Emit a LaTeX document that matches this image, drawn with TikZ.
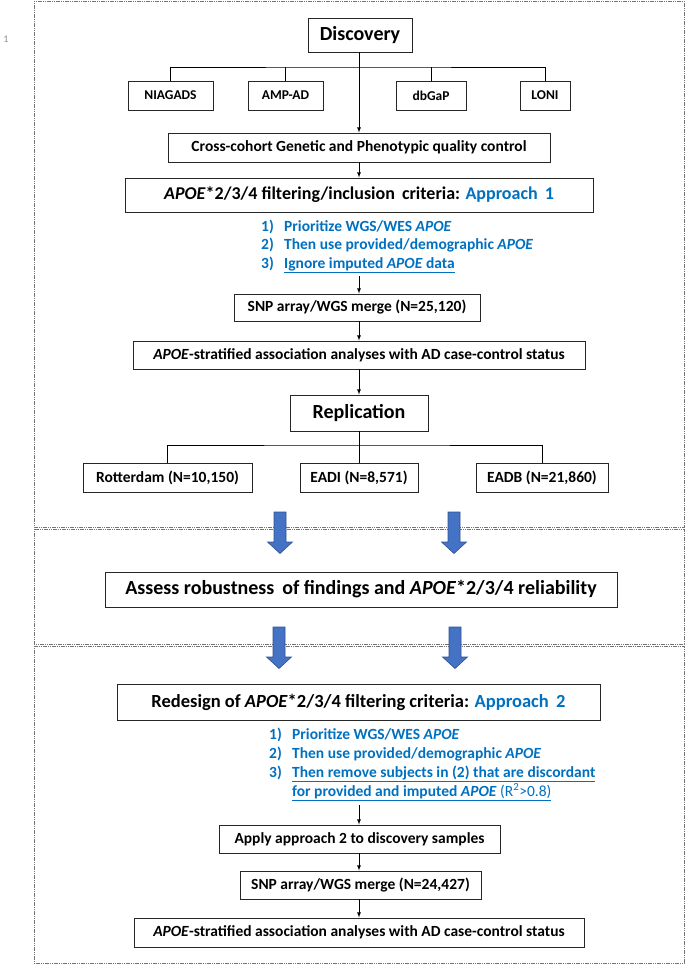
\documentclass[tikz,border=0pt]{standalone}
\usepackage{fontspec}
\setmainfont{Carlito}
\usepackage{xcolor}
\usepackage{tikz}
\usetikzlibrary{positioning, arrows}

\definecolor{listblue}{RGB}{0,112,192}
\definecolor{arrowblue}{RGB}{68,114,196}
\definecolor{arrowedge}{RGB}{47,82,143}

\begin{document}
\begin{tikzpicture}[x=1pt, y=-1pt,
        box/.style={draw=black!85, line width=0.9pt, fill=white, inner sep=0pt, align=center, font=\fontsize{15.5}{18}\selectfont\bfseries},
        srcbox/.style={box, minimum height=29pt, font=\fontsize{13.5}{16}\selectfont\bfseries},
        headbox/.style={box, font=\fontsize{20}{24}\selectfont\bfseries},
        bigbox/.style={box, font=\fontsize{18.5}{22}\selectfont\bfseries},
        item/.style={anchor=base west, inner sep=0pt, text=listblue, font=\fontsize{15.5}{18}\selectfont\bfseries},
        panel/.style={draw=black!55, line width=1pt, dash pattern=on 1.2pt off 0.6pt},
        link/.style={draw=black, line width=0.8pt},
        arr/.style={link, -latex},
        blockarr/.style={fill=arrowblue, draw=arrowedge, line width=0.6pt}]
        \useasboundingbox (0,0) rectangle (685,964);
        % the three panels
        \draw[panel] (34,1) rectangle (684,527);
        \draw[panel] (34,529) rectangle (684,644);
        \draw[panel] (34,646) rectangle (684,963);
        \node[inner sep=0pt, text=black!45, font=\fontsize{10}{11}\selectfont] (lineno) at (6,39) {1};
        % discovery
        \node[headbox, minimum width=104pt, minimum height=34pt] (disc) at (360,35) {Discovery};
        \node[srcbox, minimum width=85pt] (niagads) at (170.5,95.5) {NIAGADS};
        \node[srcbox, minimum width=75pt] (ampad) at (285.5,95.5) {AMP-AD};
        \node[srcbox, minimum width=70pt] (dbgap) at (431,95.5) {dbGaP};
        \node[srcbox, minimum width=50pt] (loni) at (545,95.5) {LONI};
        \node[box, minimum width=382pt, minimum height=29pt] (qc) at (359,147.5) {Cross-cohort Genetic and Phenotypic quality control};
        \coordinate (br1) at (359,67);
        \draw[link] (niagads.north) |- (br1) -| (loni.north);
        \draw[link] (ampad.north) -- (ampad.north |- br1);
        \draw[link] (dbgap.north) -- (dbgap.north |- br1);
        \draw[arr] (disc.south -| qc.north) -- (qc.north);
        % approach 1
        \node[bigbox, minimum width=468pt, minimum height=34pt, font=\fontsize{18}{22}\selectfont\bfseries] (appr1) at (359,195) {\textit{APOE}*2/3/4 filtering/inclusion\, criteria: {\color{listblue}Approach\, 1}};
        \draw[arr] (qc) -- (appr1);
        \node[item] (a1) at (261,231) {\makebox[23pt][l]{1)}Prioritize WGS/WES \textit{APOE}};
        \node[item] (a2) at (261,249.5) {\makebox[23pt][l]{2)}Then use provided/demographic \textit{APOE}};
        \node[item] (a3) at (261,268) {\makebox[23pt][l]{3)}\underline{Ignore imputed \textit{APOE} data}};
        \coordinate (c1) at (359,276);
        \node[box, minimum width=246pt, minimum height=27pt] (snp1) at (357,307.5) {SNP array/WGS merge (N=25,120)};
        \draw[arr] (c1) -- (c1 |- snp1.north);
        \node[box, minimum width=452pt, minimum height=28pt] (assoc1) at (359,355) {\textit{APOE}-stratified association analyses with AD case-control status};
        \draw[arr] (snp1.south -| assoc1.north) -- (assoc1.north);
        % replication
        \node[headbox, minimum width=138pt, minimum height=36pt] (repl) at (359,413) {Replication};
        \draw[arr] (assoc1) -- (repl);
        \node[box, minimum width=169pt, minimum height=29pt] (rott) at (167.5,477.5) {Rotterdam (N=10,150)};
        \node[box, minimum width=118pt, minimum height=29pt] (eadi) at (359,477.5) {EADI (N=8,571)};
        \node[box, minimum width=132pt, minimum height=29pt] (eadb) at (542,477.5) {EADB (N=21,860)};
        \coordinate (br2) at (359,445);
        \draw[link] (repl.south) -- (eadi.north);
        \draw[link] (rott.north) |- (br2) -| (eadb.north);
        % block arrows between the panels
        \foreach \x/\y in {280/512, 454/512, 279/627, 455/627}
            \filldraw[blockarr] (\x-6,\y) -- (\x+6,\y) -- (\x+6,\y+30) -- (\x+12.5,\y+30) -- (\x,\y+41.5) -- (\x-12.5,\y+30) -- (\x-6,\y+30) -- cycle;
        \node[bigbox, minimum width=512pt, minimum height=35pt, font=\fontsize{20}{24}\selectfont\bfseries] (assess) at (361,589.5) {Assess robustness\, of findings and \textit{APOE}*2/3/4 reliability};
        % approach 2
        \node[bigbox, minimum width=483pt, minimum height=36pt] (appr2) at (358.5,702) {Redesign of \textit{APOE}*2/3/4 filtering criteria: {\color{listblue}Approach\, 2}};
        \node[item] (b1) at (269,739) {\makebox[23pt][l]{1)}Prioritize WGS/WES \textit{APOE}};
        \node[item] (b2) at (269,758) {\makebox[23pt][l]{2)}Then use provided/demographic \textit{APOE}};
        \node[item] (b3) at (269,777) {\makebox[23pt][l]{3)}\underline{Then remove subjects in (2) that are discordant}};
        \node[item] (b4) at (292,796) {\underline{for provided and imputed \textit{APOE} {\mdseries(R\textsuperscript{2}>0.8)}}};
        \coordinate (c2) at (359,805);
        \node[box, minimum width=281pt, minimum height=28pt] (apply) at (359.5,839) {Apply approach 2 to discovery samples};
        \draw[arr] (c2) -- (c2 |- apply.north);
        \node[box, minimum width=241pt, minimum height=28pt] (snp2) at (360.5,885) {SNP array/WGS merge (N=24,427)};
        \draw[arr] (apply.south -| c2) -- (c2 |- snp2.north);
        \node[box, minimum width=450pt, minimum height=29pt] (assoc2) at (359,932.5) {\textit{APOE}-stratified association analyses with AD case-control status};
        \draw[arr] (snp2.south -| c2) -- (c2 |- assoc2.north);
\end{tikzpicture}
\end{document}
